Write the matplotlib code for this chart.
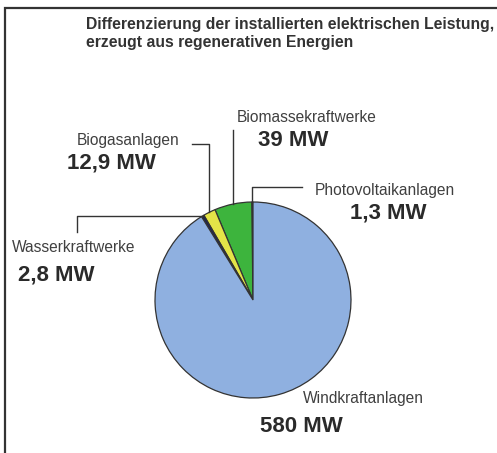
# Pie chart: installed renewable capacity
import numpy as np
import matplotlib.pyplot as plt

plt.rcParams['font.family'] = ['Liberation Sans', 'DejaVu Sans']

# Data
labels = ['Photovoltaikanlagen', 'Biomassekraftwerke', 'Biogasanlagen', 'Wasserkraftwerke', 'Windkraftanlagen']
values = [1.3, 39, 12.9, 2.8, 580]
value_text = ['1,3 MW', '39 MW', '12,9 MW', '2,8 MW', '580 MW']
colors = ['#3a3a3a', '#3db43d', '#e4e448', '#1c2454', '#8fb0e0']
title = 'Differenzierung der installierten elektrischen Leistung,\nerzeugt aus regenerativen Energien'

W, H = 497, 453
def iy(y):
    # image pixel row -> axis y
    return H - y

fig = plt.figure(figsize=(W / 100, H / 100), dpi=100)
ax = fig.add_axes([0, 0, 1, 1])

cx, cy, r = 253, 300, 98
wedges, _ = ax.pie(values, colors=colors, startangle=90, counterclock=True,
                   center=(cx, iy(cy)), radius=r,
                   wedgeprops=dict(edgecolor='#333333', linewidth=0.9))
ax.set_xlim(0, W)
ax.set_ylim(0, H)
ax.set_aspect('equal')
ax.axis('off')

# frame (left + top only)
ax.plot([4.5, 4.5, W], [0, iy(8), iy(8)], color='#333333', lw=1.6, solid_joinstyle='miter')

def edge_point(w):
    ang = np.deg2rad((w.theta1 + w.theta2) / 2)
    return cx + r * np.cos(ang), iy(cy) + r * np.sin(ang)

lc = '#333333'
# Photovoltaik leader
x0, y0 = edge_point(wedges[0])
ax.plot([x0, x0, 302], [y0, iy(187), iy(187)], color=lc, lw=1)
# Biomasse leader
x0, y0 = edge_point(wedges[1])
ax.plot([x0, x0], [y0, iy(130)], color=lc, lw=1)
# Biogas leader
x0, y0 = edge_point(wedges[2])
ax.plot([x0, x0, 192], [y0, iy(144), iy(144)], color=lc, lw=1)
# Wasserkraft leader
x0, y0 = edge_point(wedges[3])
ax.plot([x0, 77, 77], [y0, y0, iy(232)], color=lc, lw=1)

# labels
name_pos = [(315, 190), (237, 118), (77, 140), (12, 247), (303, 399)]
value_pos = [(350, 213), (258, 141), (67, 163), (18, 275), (260, 427)]
for i in range(len(labels)):
    ax.text(name_pos[i][0], iy(name_pos[i][1]), labels[i], fontsize=11.2,
            color='#404040', ha='left', va='center')
    ax.text(value_pos[i][0], iy(value_pos[i][1]), value_text[i], fontsize=16,
            fontweight='bold', color='#2a2a2a', ha='left', va='center')

ax.text(86, iy(34), title, fontsize=11.3, fontweight='bold', color='#333333',
        ha='left', va='center', linespacing=1.25)

plt.savefig('out.png', dpi=100)
